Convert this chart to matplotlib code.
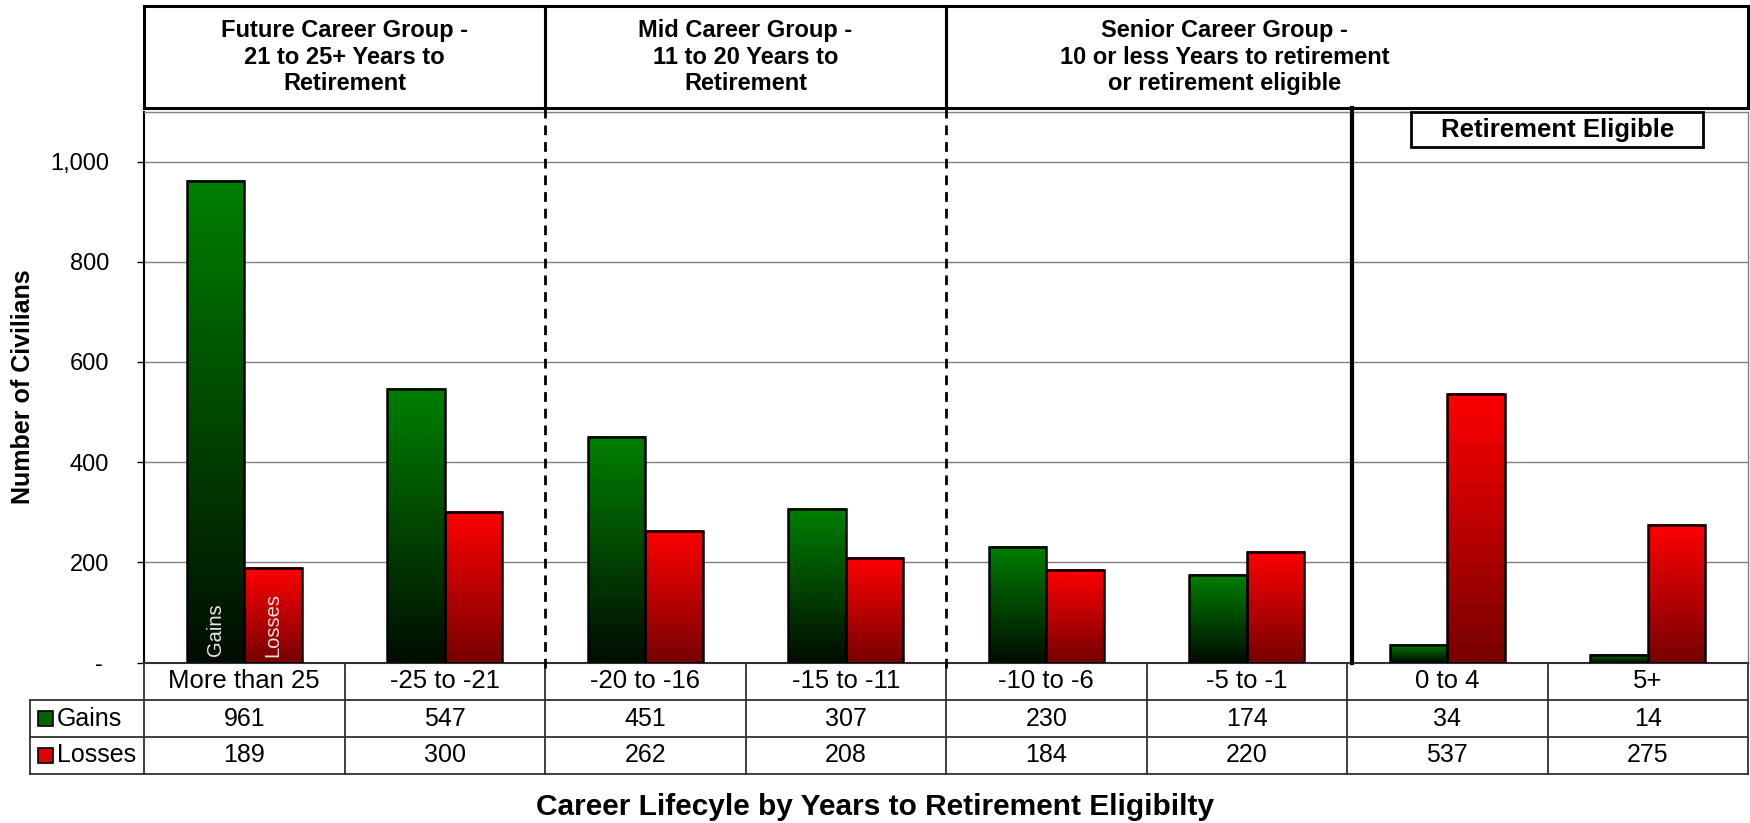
import numpy as np
import matplotlib.pyplot as plt
from matplotlib.colors import LinearSegmentedColormap
from matplotlib.patches import Rectangle
from matplotlib.transforms import blended_transform_factory
from matplotlib.ticker import FuncFormatter

plt.rcParams['font.family'] = ['Liberation Sans', 'DejaVu Sans']

# data
categories = ['More than 25', '-25 to -21', '-20 to -16', '-15 to -11',
              '-10 to -6', '-5 to -1', '0 to 4', '5+']
gains = [961, 547, 451, 307, 230, 174, 34, 14]
losses = [189, 300, 262, 208, 184, 220, 537, 275]
series_names = ['Gains', 'Losses']
group_titles = ['Future Career Group -\n21 to 25+ Years to\nRetirement',
                'Mid Career Group -\n11 to 20 Years to\nRetirement',
                'Senior Career Group -\n10 or less Years to retirement\nor retirement eligible']
yticks = [0, 200, 400, 600, 800, 1000]

W, H = 1750, 823
def fy(py):  # pixel row -> figure fraction
    return 1 - py / H

fig = plt.figure(figsize=(W / 100, H / 100), dpi=100)
ax = fig.add_axes([144 / W, fy(662.5), (1748 - 144) / W, 551 / H])

x = np.arange(len(categories))
bw = 0.287
gbars = ax.bar(x - bw / 2, gains, bw, facecolor='none', edgecolor='black', lw=1.8, zorder=3)
lbars = ax.bar(x + bw / 2, losses, bw, facecolor='none', edgecolor='black', lw=1.8, zorder=3)

# gradient fill, dark at the bottom of each bar
green = LinearSegmentedColormap.from_list('g', ['#000d00', '#008000'])
red = LinearSegmentedColormap.from_list('r', ['#780000', '#ff0000'])
grad = np.linspace(0, 1, 256).reshape(-1, 1)
for bars, cm in ((gbars, green), (lbars, red)):
    for b in bars:
        x0 = b.get_x()
        ax.imshow(grad, extent=[x0, x0 + b.get_width(), 0, b.get_height()], origin='lower',
                  cmap=cm, aspect='auto', zorder=2, interpolation='bilinear')

ax.text(gbars[0].get_x() + bw / 2, 12, series_names[0], rotation=90, ha='center', va='bottom',
        color='#e6e6e6', fontsize=14.5, zorder=5)
ax.text(lbars[0].get_x() + bw / 2, 10, series_names[1], rotation=90, ha='center', va='bottom',
        color='#f0e0e0', fontsize=14.5, zorder=5)

ax.set_xlim(-0.5, len(categories) - 0.5)
ax.set_ylim(0, 1100)
ax.set_xticks([])
ax.set_yticks(yticks)
ax.yaxis.set_major_formatter(FuncFormatter(lambda v, p: '- ' if v == 0 else f'{v:,.0f}'))
ax.tick_params(axis='y', length=5, width=1, labelsize=17, pad=20)
ax.yaxis.grid(True, color='#808080', lw=1)
ax.set_axisbelow(True)
ax.spines['left'].set_linewidth(1.5)
ax.spines['bottom'].set_color('#303030')
ax.spines['bottom'].set_linewidth(1.5)
for s in ('top', 'right'):
    ax.spines[s].set_color('#808080')
    ax.spines[s].set_linewidth(1)

# separators between career groups
xa = blended_transform_factory(ax.transData, ax.transAxes)
for xb in (1.5, 3.5):
    ax.plot([xb, xb], [-0.01, 1.006], transform=xa, color='black', lw=2,
            ls=(0, (3.5, 2.5)), clip_on=False, zorder=4)
ax.plot([5.525, 5.525], [0, 1.006], transform=xa, color='black', lw=3, clip_on=False, zorder=4)

# group header boxes
xf = blended_transform_factory(ax.transData, fig.transFigure)
spans = [(-0.5, 1.5), (1.5, 3.5), (3.5, 7.5)]
text_x = [0.5, 2.5, 4.89]
for (a, b), tx, title in zip(spans, text_x, group_titles):
    ax.add_patch(Rectangle((a, fy(108)), b - a, fy(6) - fy(108), transform=xf,
                           facecolor='none', edgecolor='black', lw=2.2, clip_on=False))
    ax.text(tx, fy(57), title, transform=xf, ha='center', va='center', fontsize=17,
            weight='bold', linespacing=1.17)

ax.add_patch(Rectangle((5.819, 1029), 1.457, 70, facecolor='white', edgecolor='black',
                       lw=2, clip_on=False, zorder=5))
ax.text(6.55, 1064, 'Retirement Eligible', ha='center', va='center', fontsize=18.5,
        weight='bold', zorder=6)

# data table under the axis
tcol = '#303030'
left = -1.07
for py in (700, 737, 774):
    ax.plot([left, 7.5], [fy(py), fy(py)], transform=xf, color=tcol, lw=1.3, clip_on=False)
for xb in np.arange(len(categories) + 1) - 0.5:
    ax.plot([xb, xb], [fy(662.5), fy(774)], transform=xf, color=tcol, lw=1.3, clip_on=False)
ax.plot([left, left], [fy(700), fy(774)], transform=xf, color=tcol, lw=1.3, clip_on=False)

for i, cat in enumerate(categories):
    ax.text(i, fy(681), cat, transform=xf, ha='center', va='center', fontsize=18.5)
    ax.text(i, fy(718.5), f'{gains[i]}', transform=xf, ha='center', va='center', fontsize=18)
    ax.text(i, fy(755.5), f'{losses[i]}', transform=xf, ha='center', va='center', fontsize=18)

for name, yc, col in zip(series_names, (718.5, 755.5), ('#006400', '#e00000')):
    fig.add_artist(Rectangle((38 / W, fy(yc + 7.5)), 15 / W, 15 / H, transform=fig.transFigure,
                             facecolor=col, edgecolor='black', lw=1.2))
    fig.text(57 / W, fy(yc), name, ha='left', va='center', fontsize=18)

fig.text(23 / W, fy(387), 'Number of Civilians', rotation=90, ha='center', va='center',
         fontsize=18, weight='bold')
fig.text(0.5, fy(807), 'Career Lifecyle by Years to Retirement Eligibilty', ha='center',
         va='center', fontsize=21.5, weight='bold')

fig.savefig('out.png', dpi=100)
